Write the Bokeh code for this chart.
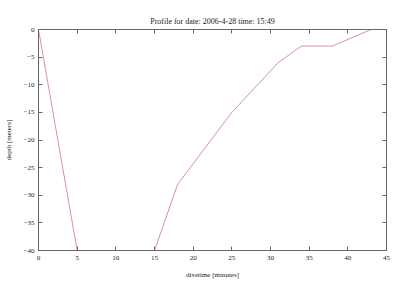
from bokeh.plotting import figure
from bokeh.models import LinearAxis, FixedTicker, Range1d
from bokeh.embed import file_html
from bokeh.resources import INLINE

divetime = [0, 5.5, 14.5, 15, 18, 25, 31, 34, 38, 43]
depth = [0, -44, -44, -40, -28, -15, -6, -3, -3, 0]
x_ticks = [0, 5, 10, 15, 20, 25, 30, 35, 40, 45]
y_ticks = [0, -5, -10, -15, -20, -25, -30, -35, -40]

FONT = "Liberation Serif"
FRAME = "#666666"

p = figure(width=400, height=281, output_backend="svg", toolbar_location=None,
           x_range=Range1d(0, 45), y_range=Range1d(-40, 0),
           min_border_left=38, min_border_right=14, min_border_top=29, min_border_bottom=30,
           title="Profile for date: 2006-4-28 time: 15:49")
p.title.text_font = FONT
p.title.text_font_size = "8px"
p.title.text_font_style = "normal"
p.title.align = "center"
p.title.text_color = "#222222"
p.title.offset = 0
p.title.standoff = 8

p.xgrid.visible = False
p.ygrid.visible = False
p.outline_line_color = FRAME
p.outline_line_width = 1
p.background_fill_color = "white"
p.border_fill_color = "white"

p.line(divetime, depth, line_color="#c84848", line_width=0.8, line_alpha=0.75)

def style(ax, ticks, labels=True):
    ax.ticker = FixedTicker(ticks=ticks)
    ax.axis_line_color = FRAME
    ax.major_tick_line_color = FRAME
    ax.major_tick_in = 4
    ax.major_tick_out = 0
    ax.minor_tick_line_color = None
    ax.major_label_text_font = FONT
    ax.major_label_text_font_size = "7px"
    ax.major_label_text_color = "#222222"
    ax.major_label_standoff = 5 if labels else 0
    ax.axis_label_text_font = FONT
    ax.axis_label_text_font_size = "7px"
    ax.axis_label_text_font_style = "normal"
    ax.axis_label_text_color = "#222222"
    if not labels:
        ax.major_label_text_font_size = "1px"
        ax.major_label_text_alpha = 0

style(p.xaxis[0], x_ticks)
p.xaxis[0].axis_label = "divetime [minutes]"
p.xaxis[0].axis_label_standoff = 8
style(p.yaxis[0], y_ticks)
p.yaxis[0].axis_label = "depth [meters]"
p.yaxis[0].axis_label_standoff = 8
p.yaxis[0].major_label_standoff = 4

top = LinearAxis()
style(top, x_ticks, labels=False)
top.major_label_overrides = {t: " " for t in x_ticks}
p.add_layout(top, "above")
right = LinearAxis()
style(right, y_ticks, labels=False)
right.major_label_overrides = {t: " " for t in y_ticks}
p.add_layout(right, "right")

open("out.html", "w").write(file_html(p, INLINE))
